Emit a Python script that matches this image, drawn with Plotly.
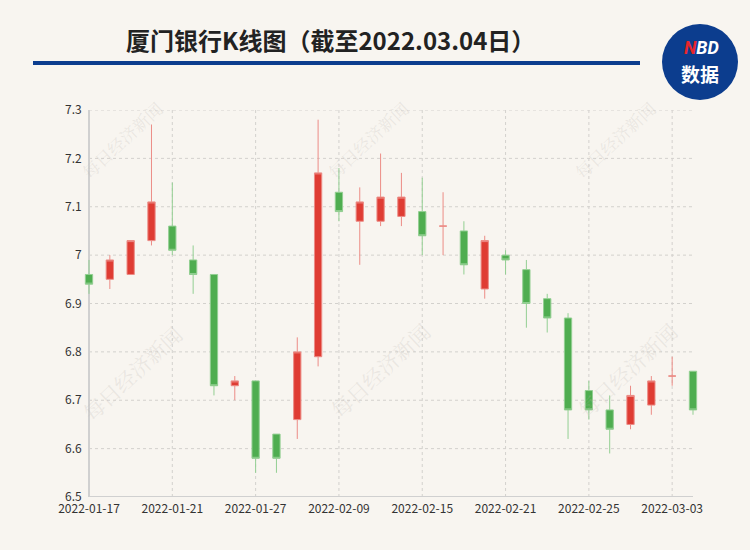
import plotly.graph_objects as go

dates = ["2022-01-17","2022-01-18","2022-01-19","2022-01-20","2022-01-21",
         "2022-01-24","2022-01-25","2022-01-26","2022-01-27","2022-01-28",
         "2022-02-07","2022-02-08","2022-02-09","2022-02-10","2022-02-11",
         "2022-02-14","2022-02-15","2022-02-16","2022-02-17","2022-02-18",
         "2022-02-21","2022-02-22","2022-02-23","2022-02-24","2022-02-25",
         "2022-02-28","2022-03-01","2022-03-02","2022-03-03","2022-03-04"]
open_ = [6.96,6.95,6.96,7.03,7.06,6.99,6.96,6.73,6.74,6.63,
         6.66,6.79,7.13,7.07,7.07,7.08,7.09,7.06,7.05,6.93,
         7.00,6.97,6.91,6.87,6.72,6.68,6.65,6.69,6.75,6.76]
close = [6.94,6.99,7.03,7.11,7.01,6.96,6.73,6.74,6.58,6.58,
         6.80,7.17,7.09,7.11,7.12,7.12,7.04,7.06,6.98,7.03,
         6.99,6.90,6.87,6.68,6.68,6.64,6.71,6.74,6.75,6.68]
high = [6.99,7.00,7.03,7.27,7.15,7.02,6.96,6.75,6.74,6.63,
        6.83,7.28,7.18,7.14,7.21,7.17,7.16,7.13,7.07,7.04,
        7.01,6.99,6.92,6.88,6.74,6.71,6.73,6.75,6.79,6.76]
low = [6.92,6.93,6.96,7.02,7.00,6.92,6.71,6.70,6.55,6.55,
       6.62,6.77,7.07,6.98,7.06,7.06,7.00,7.00,6.96,6.91,
       6.96,6.85,6.84,6.62,6.66,6.59,6.64,6.67,6.73,6.67]
tick_dates = ["2022-01-17","2022-01-21","2022-01-27","2022-02-09",
              "2022-02-15","2022-02-21","2022-02-25","2022-03-03"]
y_ticks = [6.5,6.6,6.7,6.8,6.9,7.0,7.1,7.2,7.3]
y_labels = ["6.5","6.6","6.7","6.8","6.9","7","7.1","7.2","7.3"]

title_text = "厦门银行K线图（截至2022.03.04日）"
watermark = "每日经济新闻"

W, H = 750, 550
BG = "#f8f5f0"
BLUE = "#0c3d8e"

def px(x):
    return x / W

def py(y):
    return 1 - y / H

fig = go.Figure()
fig.add_trace(go.Candlestick(
    x=dates, open=open_, high=high, low=low, close=close,
    increasing=dict(line=dict(color="#ec8c86", width=1), fillcolor="#df3c33"),
    decreasing=dict(line=dict(color="#93cf92", width=1), fillcolor="#4fad50"),
    whiskerwidth=0, showlegend=False, hoverinfo="skip",
))

shapes = []
for v in y_ticks[1:]:
    shapes.append(dict(type="line", xref="x", yref="y", x0=0, x1=len(dates) - 1,
                       y0=v, y1=v, line=dict(color="#d3d1cd", width=1, dash="dot"),
                       layer="below"))
for d in tick_dates[1:]:
    i = dates.index(d)
    shapes.append(dict(type="line", xref="x", yref="y", x0=i, x1=i,
                       y0=y_ticks[0], y1=y_ticks[-1],
                       line=dict(color="#d3d1cd", width=1, dash="dot"), layer="below"))
shapes.append(dict(type="line", xref="x", yref="y", x0=0, x1=0,
                   y0=y_ticks[0], y1=y_ticks[-1], line=dict(color="#d0d0d0", width=2),
                   layer="below"))
shapes.append(dict(type="line", xref="x", yref="y", x0=0, x1=len(dates) - 1,
                   y0=y_ticks[0], y1=y_ticks[0], line=dict(color="#d0d0d0", width=2),
                   layer="below"))
shapes.append(dict(type="line", xref="paper", yref="paper", x0=px(33), x1=px(640),
                   y0=py(63), y1=py(63), line=dict(color=BLUE, width=4)))
shapes.append(dict(type="circle", xref="paper", yref="paper", x0=px(662), x1=px(738),
                   y0=py(100), y1=py(24), fillcolor=BLUE, line=dict(width=0)))

def ann(text, x, y, font, angle=0):
    return dict(text=text, x=px(x), y=py(y), xref="paper", yref="paper",
                xanchor="center", yanchor="middle", showarrow=False,
                textangle=angle, font=font)

annotations = [
    ann("<b>" + title_text + "</b>", 330, 39,
        dict(family="Noto Sans CJK SC", size=24, color="#222222")),
    ann("<b><i><span style='color:#e8262b'>N</span>BD</i></b>", 701, 47,
        dict(family="Roboto", size=18, color="white")),
    ann("<b>数据</b>", 700, 74, dict(family="Noto Sans CJK SC", size=19, color="white")),
]
for (cx, cy, s) in [(122, 140, 17), (368, 140, 17), (615, 140, 17),
                    (132, 373, 21), (380, 370, 21), (627, 370, 21)]:
    annotations.append(ann(watermark, cx, cy,
                           dict(family="Noto Serif CJK SC, Noto Sans CJK SC", size=s,
                                color="rgba(190,185,180,0.25)"), angle=-43))

x0p, x1p = 89, 693
step = (x1p - x0p) / (len(dates) - 1)
pad = 0.3
fig.update_layout(
    width=W, height=H, autosize=False,
    margin=dict(l=0, r=0, t=0, b=0, pad=0),
    paper_bgcolor=BG, plot_bgcolor=BG,
    boxgap=0.5,
    shapes=shapes, annotations=annotations,
    font=dict(family="Noto Sans CJK SC", color="#333333", size=12),
    xaxis=dict(type="category", categoryorder="array", categoryarray=dates,
               range=[-pad, len(dates) - 1 + pad], automargin=False,
               domain=[px(x0p - pad * step), px(x1p + pad * step)],
               tickmode="array", tickvals=tick_dates, ticktext=tick_dates,
               showgrid=False, zeroline=False, showline=False, ticks="",
               ticklabelstandoff=3,
               rangeslider=dict(visible=False), tickfont=dict(size=12, color="#333333")),
    yaxis=dict(range=[y_ticks[0], y_ticks[-1]], domain=[py(497), py(110)],
               automargin=False,
               tickmode="array", tickvals=y_ticks, ticktext=y_labels,
               showgrid=False, zeroline=False, showline=False, ticks="",
               tickfont=dict(size=12, color="#333333")),
)
fig.write_html("out.html", config={"displayModeBar": False},
               post_script="document.body.style.margin='0';document.body.style.background='" + BG + "';")
